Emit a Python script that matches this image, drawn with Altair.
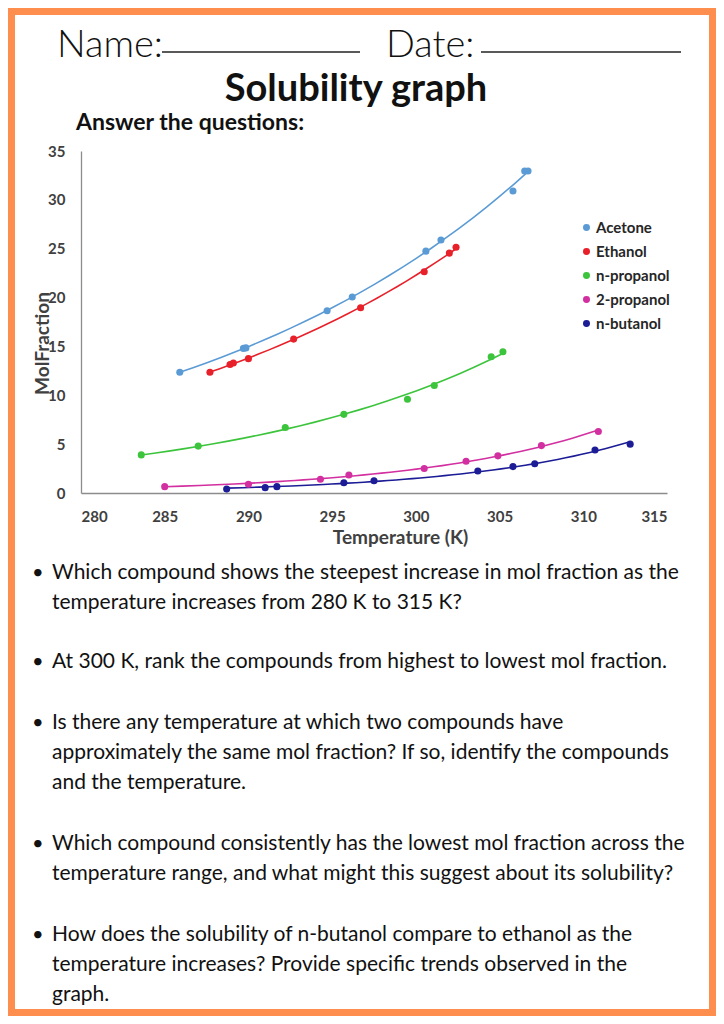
import altair as alt
import pandas as pd

# ---------------- data ----------------
compounds = ["Acetone", "Ethanol", "n-propanol", "2-propanol", "n-butanol"]
colors = ["#5B9BD5", "#E8202A", "#3CC43C", "#D22FA0", "#1C1C96"]

acetone_T = [285.9, 289.7, 289.85, 294.7, 296.2, 300.6, 301.5, 305.8, 306.5, 306.7]
acetone_x = [12.35, 14.8, 14.85, 18.65, 20.05, 24.75, 25.9, 30.9, 32.95, 32.95]
ethanol_T = [287.7, 288.9, 289.1, 290.0, 292.7, 296.7, 300.5, 302.0, 302.4]
ethanol_x = [12.35, 13.15, 13.3, 13.75, 15.75, 18.95, 22.65, 24.55, 25.15]
npropanol_T = [283.6, 287.0, 292.2, 295.7, 299.5, 301.1, 304.5, 305.2]
npropanol_x = [3.9, 4.8, 6.7, 8.05, 9.6, 11.0, 13.95, 14.45]
ipropanol_T = [285.0, 290.0, 294.3, 296.0, 300.5, 303.0, 304.9, 307.5, 310.9]
ipropanol_x = [0.65, 0.9, 1.4, 1.85, 2.5, 3.25, 3.8, 4.85, 6.3]
nbutanol_T = [288.7, 291.0, 291.7, 295.7, 297.5, 303.7, 305.8, 307.1, 310.7, 312.8]
nbutanol_x = [0.4, 0.55, 0.65, 1.05, 1.25, 2.25, 2.7, 3.0, 4.4, 5.0]

x_ticks = [280, 285, 290, 295, 300, 305, 310, 315]
y_ticks = [0, 5, 10, 15, 20, 25, 30, 35]

name_label = "Name:"
date_label = "Date:"
title_text = "Solubility graph"
subtitle_text = "Answer the questions:"
x_title = "Temperature (K)"
y_title = "MolFraction"

questions = [
    ["Which compound shows the steepest increase in mol fraction as the",
     "temperature increases from 280 K to 315 K?"],
    ["At 300 K, rank the compounds from highest to lowest mol fraction."],
    ["Is there any temperature at which two compounds have",
     "approximately the same mol fraction? If so, identify the compounds",
     "and the temperature."],
    ["Which compound consistently has the lowest mol fraction across the",
     "temperature range, and what might this suggest about its solubility?"],
    ["How does the solubility of n-butanol compare to ethanol as the",
     "temperature increases? Provide specific trends observed in the",
     "graph."],
]

series = [
    ("Acetone", acetone_T, acetone_x),
    ("Ethanol", ethanol_T, ethanol_x),
    ("n-propanol", npropanol_T, npropanol_x),
    ("2-propanol", ipropanol_T, ipropanol_x),
    ("n-butanol", nbutanol_T, nbutanol_x),
]
rows = []
for name, ts, xs in series:
    for t, v in zip(ts, xs):
        rows.append({"compound": name, "T": t, "x": v})
df = pd.DataFrame(rows)
one = pd.DataFrame({"k": [0]})

# ---------------- layout (page pixel coords) ----------------
PX0, PY0 = 81, 151          # plot-area origin on the page
W, H = 586, 342             # plot area


def px(v):
    return v - PX0


def py(v):
    return v - PY0


FONT = "Lato"


def txt(s, x, y, size, weight="normal", align="left", color="#111111"):
    return alt.Chart(one).mark_text(
        text=s, align=align, baseline="alphabetic", fontSize=size,
        fontWeight=weight, font=FONT, color=color
    ).encode(x=alt.value(px(x)), y=alt.value(py(y)))


def hline(x1, x2, y):
    return alt.Chart(one).mark_rule(color="#222222", strokeWidth=1.3).encode(
        x=alt.value(px(x1)), x2=alt.value(px(x2)), y=alt.value(py(y)))


layers = []
# orange frame
layers.append(alt.Chart(one).mark_rect(fill="white", fillOpacity=0,
                                       stroke="#FD8E4E", strokeWidth=7).encode(
    x=alt.value(px(11.5)), x2=alt.value(px(712.5)),
    y=alt.value(py(11.5)), y2=alt.value(py(1012.5))))

# header
layers.append(txt(name_label, 57, 57, 38, weight=300))
layers.append(hline(162, 360, 52))
layers.append(txt(date_label, 386, 57, 38, weight=300))
layers.append(hline(481, 681, 52))
layers.append(txt(title_text, 356, 101, 38, weight="bold", align="center"))
layers.append(txt(subtitle_text, 76, 130, 23, weight="bold"))

# questions
line_y = [[579, 609], [668], [729, 759, 789], [850, 880], [941, 971, 1001]]
for q, ys in zip(questions, line_y):
    layers.append(txt("\u2022", 32, ys[0], 20))
    for line, yy in zip(q, ys):
        layers.append(txt(line, 52, yy, 21))

# ---------------- plot ----------------
x_enc = alt.X("T:Q", scale=alt.Scale(domain=[280, 315], nice=False),
              axis=alt.Axis(values=x_ticks, grid=False, ticks=False, tickSize=0,
                            domainColor="#8c8c8c", domainWidth=1.3, zindex=1,
                            labelFont=FONT, labelFontSize=15, labelFontWeight="bold",
                            labelColor="#404040", labelPadding=16,
                            title=x_title, titleFont=FONT, titleFontSize=19,
                            titleFontWeight="bold", titleColor="#404040",
                            titleX=px(400), titleY=44, titleBaseline="middle"))
y_enc = alt.Y("x:Q", scale=alt.Scale(domain=[0, 35], nice=False),
              axis=alt.Axis(values=y_ticks, grid=False, ticks=False, tickSize=0,
                            domainColor="#8c8c8c", domainWidth=1.3, zindex=1,
                            labelFont=FONT, labelFontSize=15, labelFontWeight="bold",
                            labelColor="#404040", labelPadding=16,
                            title=y_title, titleFont=FONT, titleFontSize=19,
                            titleFontWeight="bold", titleColor="#404040",
                            titleX=px(42), titleY=py(343), titleBaseline="middle",
                            titleAngle=270))
color_scale = alt.Scale(domain=compounds, range=colors)
legend = alt.Legend(orient="none", legendX=px(579), legendY=py(220),
                    title=None, symbolType="circle", symbolSize=30,
                    labelFont=FONT, labelFontSize=15,
                    labelFontWeight="bold", labelColor="#262626",
                    rowPadding=8, labelOffset=2, padding=0, zindex=1)
color_enc = alt.Color("compound:N", scale=color_scale, sort=compounds, legend=legend)

lines = alt.Chart(df).transform_regression(
    "T", "x", groupby=["compound"], method="exp"
).mark_line(strokeWidth=1.6).encode(x=x_enc, y=y_enc, color=color_enc)

points = alt.Chart(df).mark_circle(size=50, opacity=1).encode(
    x=x_enc, y=y_enc, color=color_enc)

layers += [lines, points]

chart = alt.layer(*layers).properties(
    width=W, height=H,
    padding={"left": PX0 - 8, "top": PY0 - 8, "right": 716 - (PX0 + W),
             "bottom": 1016 - (PY0 + H)},
    autosize=alt.AutoSizeParams(type="none"),
).configure(background="white").configure_view(stroke=None)

chart.save("out.html", embed_options={"renderer": "svg", "actions": False})
